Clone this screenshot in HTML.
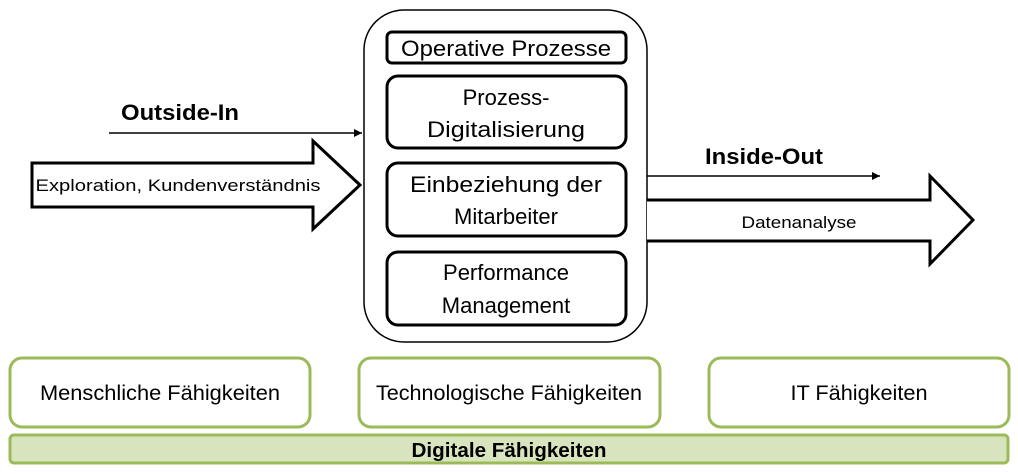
<!DOCTYPE html>
<html><head><meta charset="utf-8"><style>
html,body{margin:0;padding:0;background:#fff;}
svg{display:block;}
text{font-family:"Liberation Sans",sans-serif;fill:#000;}
</style></head><body>
<svg width="1018" height="474" viewBox="0 0 1018 474" xmlns="http://www.w3.org/2000/svg">
<defs><marker id="ah" markerWidth="8" markerHeight="8" refX="8" refY="4" orient="auto" markerUnits="userSpaceOnUse"><path d="M0,0 L8,4 L0,8 Z" fill="#000"/></marker></defs>
<!-- left -->
<text x="180" y="120" font-size="22" font-weight="bold" text-anchor="middle" textLength="118" lengthAdjust="spacingAndGlyphs">Outside-In</text>
<line x1="109" y1="133" x2="362" y2="133" stroke="#000" stroke-width="1.5" marker-end="url(#ah)"/>
<path d="M32,163 L313,163 L313,141 L360,185 L313,229 L313,207 L32,207 Z" fill="#fff" stroke="#000" stroke-width="3"/>
<text x="178" y="191" font-size="17" text-anchor="middle" textLength="285" lengthAdjust="spacingAndGlyphs">Exploration, Kundenverständnis</text>
<!-- center -->
<rect x="364" y="10" width="283" height="332" rx="40" fill="#fff" stroke="#000" stroke-width="1.5"/>
<rect x="387" y="32" width="239" height="31" rx="5" fill="#fff" stroke="#000" stroke-width="3"/>
<text x="506" y="56" font-size="22" text-anchor="middle" textLength="210" lengthAdjust="spacingAndGlyphs">Operative Prozesse</text>
<rect x="387" y="76" width="239" height="72" rx="11" fill="#fff" stroke="#000" stroke-width="3"/>
<text x="506" y="105" font-size="22" text-anchor="middle">Prozess-</text>
<text x="506" y="137" font-size="22" text-anchor="middle" textLength="158" lengthAdjust="spacingAndGlyphs">Digitalisierung</text>
<rect x="387" y="163" width="239" height="73" rx="11" fill="#fff" stroke="#000" stroke-width="3"/>
<text x="506" y="192" font-size="22" text-anchor="middle" textLength="192" lengthAdjust="spacingAndGlyphs">Einbeziehung der</text>
<text x="506" y="224" font-size="22" text-anchor="middle">Mitarbeiter</text>
<rect x="387" y="252" width="239" height="73" rx="11" fill="#fff" stroke="#000" stroke-width="3"/>
<text x="506" y="280" font-size="22" text-anchor="middle">Performance</text>
<text x="506" y="313" font-size="22" text-anchor="middle">Management</text>
<!-- right -->
<text x="764" y="164" font-size="22" font-weight="bold" text-anchor="middle" textLength="118" lengthAdjust="spacingAndGlyphs">Inside-Out</text>
<line x1="647" y1="176" x2="880" y2="176" stroke="#000" stroke-width="1.5" marker-end="url(#ah)"/>
<path d="M647,200 L930,200 L930,176 L973,220 L930,264 L930,241 L647,241" fill="#fff" stroke="#000" stroke-width="3"/>
<text x="799" y="228" font-size="17" text-anchor="middle" textLength="115" lengthAdjust="spacingAndGlyphs">Datenanalyse</text>
<!-- bottom -->
<rect x="10" y="358" width="300" height="69" rx="12" fill="#fff" stroke="#9bbb59" stroke-width="3"/>
<text x="160" y="400" font-size="21" text-anchor="middle" textLength="240" lengthAdjust="spacingAndGlyphs">Menschliche Fähigkeiten</text>
<rect x="359" y="358" width="301" height="69" rx="12" fill="#fff" stroke="#9bbb59" stroke-width="3"/>
<text x="509" y="400" font-size="21" text-anchor="middle" textLength="266" lengthAdjust="spacingAndGlyphs">Technologische Fähigkeiten</text>
<rect x="709" y="358" width="300" height="69" rx="12" fill="#fff" stroke="#9bbb59" stroke-width="3"/>
<text x="859" y="400" font-size="21" text-anchor="middle" textLength="137" lengthAdjust="spacingAndGlyphs">IT Fähigkeiten</text>
<rect x="10" y="435" width="998" height="28" rx="4" fill="#d7e4bd" stroke="#9bbb59" stroke-width="3"/>
<text x="509" y="457" font-size="20" font-weight="bold" text-anchor="middle" textLength="195" lengthAdjust="spacingAndGlyphs">Digitale Fähigkeiten</text>
</svg>
</body></html>
